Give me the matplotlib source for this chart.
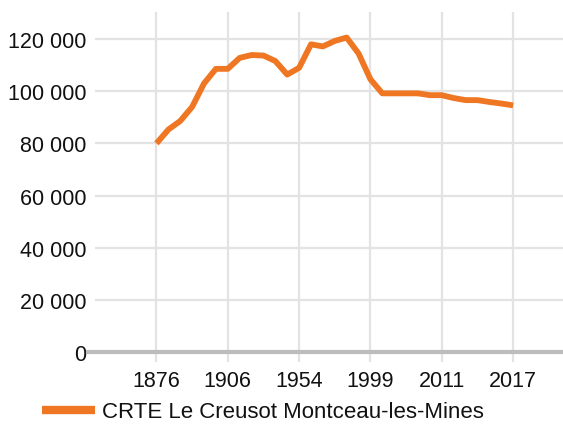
import matplotlib
matplotlib.use("Agg")
import matplotlib.pyplot as plt

plt.rcParams['font.family'] = ['Liberation Sans', 'DejaVu Sans']

# census years (category axis) and population
years = [1876, 1881, 1886, 1891, 1896, 1901, 1906, 1921, 1926, 1931, 1936,
         1946, 1954, 1962, 1968, 1975, 1982, 1990, 1999, 2006, 2007, 2008,
         2009, 2010, 2011, 2012, 2013, 2014, 2015, 2016, 2017]
population = [80000, 85300, 88600, 94000, 103000, 108600, 108600, 112800,
              113900, 113700, 111600, 106400, 109000, 118000, 117200, 119300,
              120600, 114500, 104600, 99200, 99200, 99200, 99200, 98500,
              98500, 97400, 96600, 96600, 95900, 95300, 94600]
tick_years = [1876, 1906, 1954, 1999, 2011, 2017]
series_name = "CRTE Le Creusot Montceau-les-Mines"

grid_col = '#e3e3e3'
line_col = '#ef7622'

W, H = 563, 427
fig = plt.figure(figsize=(W / 100, H / 100), dpi=100)
ax = fig.add_axes([95 / W, (H - 353) / H, (W - 95) / W, (353 - 13) / H])

xs = list(range(len(years)))
ax.plot(xs, population, color=line_col, lw=4.2, solid_capstyle='butt',
        solid_joinstyle='round', label=series_name, zorder=3)

ax.set_xlim(-5.17, 34.2)
ax.set_ylim(0, 130400)

ax.set_xticks([years.index(y) for y in tick_years])
ax.set_xticklabels([str(y) for y in tick_years])
ax.set_yticks([0, 20000, 40000, 60000, 80000, 100000, 120000])
ax.set_yticklabels(['0', '20 000', '40 000', '60 000', '80 000', '100 000', '120 000'])

ax.grid(True, color=grid_col, lw=1.6)
ax.set_axisbelow(True)
for s in ax.spines.values():
    s.set_visible(False)
ax.tick_params(axis='y', length=0, pad=6, labelsize=15.5, labelcolor='#111111')
ax.tick_params(axis='x', length=7, width=1.6, color=grid_col, pad=6,
               labelsize=15.5, labelcolor='#111111')

ax.axhline(0, xmin=-0.015, xmax=1, color='#bcbcbc', lw=3, clip_on=False, zorder=2)

fig.legend(loc='center', bbox_to_anchor=(263 / W, 1 - 413 / H), frameon=False,
           fontsize=16, handlelength=2.4, handletextpad=0.3,
           borderaxespad=0, borderpad=0, labelcolor='#111111')
for h in fig.legends[0].get_lines():
    h.set_linewidth(6)

fig.savefig('out.png', dpi=100)
